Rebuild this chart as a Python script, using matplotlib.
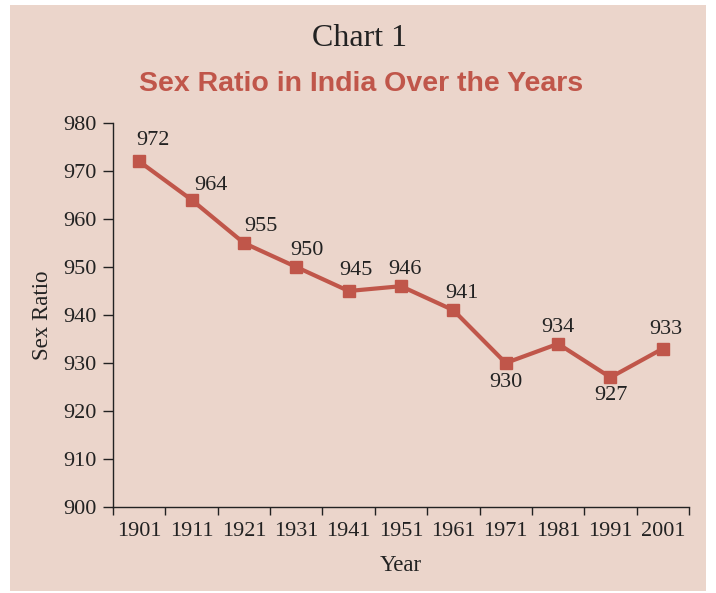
import matplotlib

matplotlib.use("Agg")
import matplotlib.pyplot as plt
from matplotlib.patches import Rectangle
from matplotlib import font_manager

years = ["1901", "1911", "1921", "1931", "1941", "1951", "1961", "1971", "1981", "1991", "2001"]
sex_ratio = [972, 964, 955, 950, 945, 946, 941, 930, 934, 927, 933]
y_ticks = [900, 910, 920, 930, 940, 950, 960, 970, 980]

BG = "#ebd5cb"
RED = "#c0564a"
INK = "#222222"
SERIF = ["Liberation Serif", "DejaVu Serif"]

# label offsets (points) relative to each marker
label_off = [(10, 15), (14, 10), (12, 12), (8, 12), (5, 15), (3, 12), (6, 12),
             (0, -14), (0, 12), (0, -13), (2, 14)]

names = {f.name for f in font_manager.fontManager.ttflist}
narrow = "Liberation Sans Narrow" if "Liberation Sans Narrow" in names else "Liberation Sans"

fig = plt.figure(figsize=(7.16, 5.93), dpi=100, facecolor="white")
fig.patches.append(Rectangle((10 / 716, 2 / 593), 696 / 716, 586 / 593,
                             transform=fig.transFigure, facecolor=BG,
                             edgecolor="none", zorder=-10))

ax = fig.add_axes([113 / 716, 86 / 593, 576 / 716, 384 / 593])
ax.set_facecolor("none")
ax.set_zorder(5)

x = list(range(len(years)))
ax.plot(x, sex_ratio, color=RED, lw=3, marker="s", ms=9, mec=RED, mfc=RED, zorder=3)

for xi, v, (dx, dy) in zip(x, sex_ratio, label_off):
    ax.annotate(str(v), (xi, v), xytext=(dx, dy), textcoords="offset points",
                ha="center", va="center", fontsize=16, family=SERIF, color=INK)

ax.set_xlim(-0.5, len(years) - 0.5)
ax.set_ylim(900, 980)
ax.set_yticks(y_ticks)
ax.set_yticklabels([str(t) for t in y_ticks], family=SERIF, fontsize=16, color=INK)

# category boundaries get the tick marks, labels sit in the middle
ax.set_xticks([i - 0.5 for i in range(len(years) + 1)])
ax.set_xticklabels([])
ax.set_xticks(x, minor=True)
ax.set_xticklabels(years, minor=True, family=SERIF, fontsize=16, color=INK)
ax.tick_params(axis="x", which="minor", length=0, pad=11)
ax.tick_params(axis="x", which="major", length=6, width=1, color=INK)
ax.tick_params(axis="y", length=7, width=1, color=INK, pad=5)

for s in ("top", "right"):
    ax.spines[s].set_visible(False)
for s in ("left", "bottom"):
    ax.spines[s].set_color(INK)
    ax.spines[s].set_linewidth(1)

ax.set_xlabel("Year", family=SERIF, fontsize=16.5, color=INK, labelpad=10)
ax.set_ylabel("Sex Ratio", family=SERIF, fontsize=16.5, color=INK, labelpad=7)

fig.text(360 / 716, 1 - 38 / 593, "Chart 1", ha="center", va="center",
         family=SERIF, fontsize=23, color=INK)
fig.text(361 / 716, 1 - 84 / 593, "Sex Ratio in India Over the Years", ha="center",
         va="center", family=[narrow, "DejaVu Sans"], fontweight="bold",
         fontsize=20.5, color=RED)

fig.savefig("out.png", dpi=100, facecolor="white")
